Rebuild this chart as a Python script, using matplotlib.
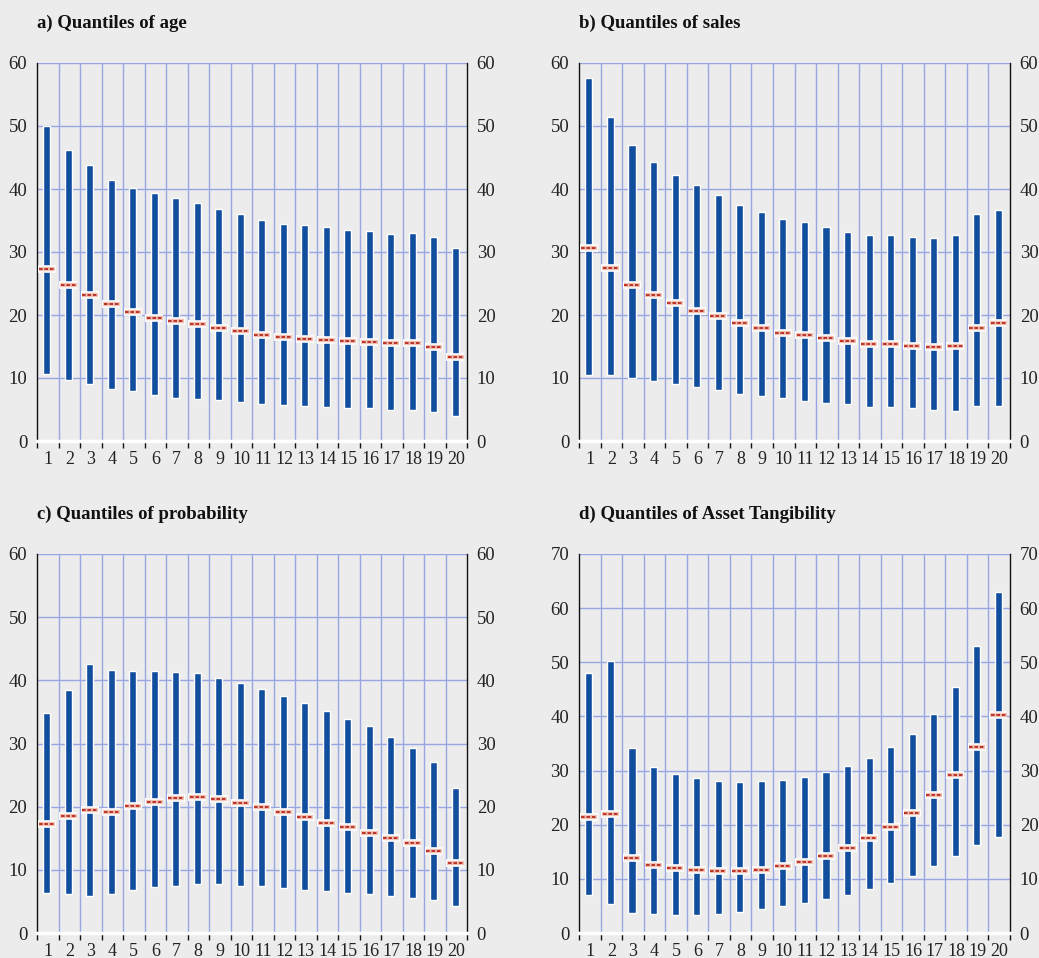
import numpy as np
import matplotlib
matplotlib.use("Agg")
import matplotlib.pyplot as plt

plt.rcParams['font.family'] = ['Liberation Serif', 'DejaVu Serif']

quantiles = list(range(1, 21))

# a) age
age_high = [50.0, 46.2, 43.8, 41.5, 40.2, 39.3, 38.5, 37.8, 36.8, 36.1,
            35.0, 34.5, 34.3, 33.9, 33.5, 33.3, 32.9, 33.0, 32.4, 30.7]
age_med = [27.3, 24.7, 23.2, 21.7, 20.5, 19.5, 19.0, 18.5, 17.9, 17.5,
           16.8, 16.5, 16.2, 16.0, 15.8, 15.7, 15.5, 15.6, 14.9, 13.4]
age_low = [10.6, 9.7, 9.0, 8.3, 8.0, 7.3, 6.9, 6.7, 6.5, 6.2,
           5.9, 5.7, 5.6, 5.4, 5.3, 5.2, 4.9, 4.9, 4.6, 4.0]

# b) sales
sales_high = [57.6, 51.5, 47.0, 44.3, 42.2, 40.6, 39.0, 37.5, 36.3, 35.3,
              34.7, 33.9, 33.2, 32.7, 32.7, 32.4, 32.3, 32.7, 36.0, 36.6]
sales_med = [30.7, 27.4, 24.8, 23.2, 21.9, 20.7, 19.8, 18.8, 17.9, 17.2,
             16.9, 16.3, 15.8, 15.4, 15.4, 15.1, 14.9, 15.1, 17.9, 18.8]
sales_low = [10.4, 10.5, 10.0, 9.5, 9.0, 8.5, 8.1, 7.5, 7.1, 6.9,
             6.4, 6.1, 5.8, 5.4, 5.4, 5.2, 4.9, 4.7, 5.5, 5.6]

# c) probability
prob_high = [34.8, 38.5, 42.6, 41.6, 41.4, 41.5, 41.3, 41.1, 40.4, 39.5,
             38.6, 37.5, 36.4, 35.1, 33.9, 32.7, 31.1, 29.3, 27.1, 23.0]
prob_med = [17.2, 18.5, 19.5, 19.2, 20.1, 20.8, 21.4, 21.5, 21.2, 20.6,
            20.0, 19.2, 18.3, 17.4, 16.8, 15.9, 15.0, 14.2, 13.0, 11.1]
prob_low = [6.3, 6.2, 5.9, 6.1, 6.8, 7.3, 7.5, 7.7, 7.7, 7.5,
            7.4, 7.1, 6.8, 6.6, 6.4, 6.1, 5.9, 5.5, 5.2, 4.3]

# d) asset tangibility
tang_high = [48.0, 50.2, 34.1, 30.7, 29.4, 28.6, 28.0, 27.8, 28.0, 28.3,
             28.9, 29.7, 30.9, 32.3, 34.3, 36.8, 40.5, 45.4, 53.1, 63.0]
tang_med = [21.4, 22.0, 13.9, 12.6, 12.0, 11.7, 11.5, 11.5, 11.7, 12.3,
            13.1, 14.2, 15.7, 17.6, 19.6, 22.2, 25.4, 29.2, 34.3, 40.3]
tang_low = [7.0, 5.3, 3.7, 3.5, 3.4, 3.4, 3.6, 3.9, 4.4, 4.9,
            5.5, 6.3, 7.1, 8.1, 9.3, 10.6, 12.3, 14.2, 16.3, 17.7]

panels = [
    ("a) Quantiles of age", age_low, age_med, age_high, 60),
    ("b) Quantiles of sales", sales_low, sales_med, sales_high, 60),
    ("c) Quantiles of probability", prob_low, prob_med, prob_high, 60),
    ("d) Quantiles of Asset Tangibility", tang_low, tang_med, tang_high, 70),
]

BG = "#ececec"
GRID = "#98a6e2"
BLUE = "#124e9e"
RED = "#b8281a"

W, H = 1039, 958
fig = plt.figure(figsize=(W / 100, H / 100), dpi=100, facecolor=BG)

# pixel boxes (left, top, right, bottom)
boxes = [(37, 63, 467, 441), (579, 63, 1010, 441),
         (37, 554, 467, 933), (579, 554, 1010, 933)]

for (title, low, med, high, ymax), (l, t, r, b) in zip(panels, boxes):
    ax = fig.add_axes([l / W, 1 - b / H, (r - l) / W, (b - t) / H])
    ax.set_facecolor(BG)
    x = np.array(quantiles) - 0.04
    low = np.array(low)
    high = np.array(high)
    med = np.array(med)

    ax.bar(x, high - low, bottom=low, width=0.33, color=BLUE,
           edgecolor="white", linewidth=1.0, zorder=3)
    # median markers
    ax.hlines(med, x - 0.42, x + 0.42, color="white", linewidth=5.5, zorder=4)
    ax.hlines(med, x - 0.38, x + 0.38, color="#f0c2b6", linewidth=3.2, zorder=5)
    ax.hlines(med, x - 0.36, x + 0.36, color=RED, linewidth=1.3,
              linestyles=(0, (2, 1)), zorder=6)

    ax.set_xlim(0.5, 20.5)
    ax.set_ylim(0, ymax)
    ax.set_xticks(quantiles)
    ax.set_xticklabels([str(q) for q in quantiles])
    ax.set_xticks(np.arange(0.5, 21, 1), minor=True)
    ax.set_yticks(np.arange(0, ymax + 1, 10))

    ax.grid(False)
    for yv in np.arange(10, ymax + 1, 10):
        ax.axhline(yv, color=GRID, linewidth=1.0, zorder=1)
    for xv in np.arange(1.5, 20.5, 1):
        ax.axvline(xv, color=GRID, linewidth=1.0, zorder=1)

    ax.tick_params(axis="x", which="major", length=0, labelsize=13, pad=7,
                   colors="#222222")
    ax.tick_params(axis="x", which="minor", length=5, width=1.0,
                   direction="out", color="#111111")
    ax.tick_params(axis="y", which="major", length=0, labelsize=13.5,
                   labelleft=True, labelright=True, pad=7, colors="#222222")

    ax.spines["top"].set_visible(False)
    ax.spines["left"].set_color("#111111")
    ax.spines["right"].set_color("#111111")
    ax.spines["left"].set_linewidth(1.0)
    ax.spines["right"].set_linewidth(1.0)
    ax.spines["bottom"].set_color("white")
    ax.spines["bottom"].set_linewidth(2.5)
    ax.spines["bottom"].set_zorder(7)

    fig.text(l / W, 1 - (t - 40) / H, title, fontsize=13.5,
             fontweight="bold", ha="left", va="center", color="#111111")

fig.savefig("out.png", dpi=100, facecolor=BG)
